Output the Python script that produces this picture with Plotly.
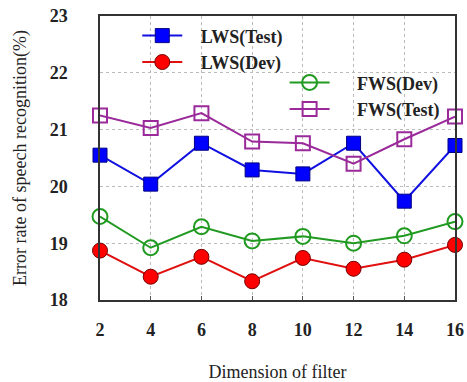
import plotly.graph_objects as go

dims = [2, 4, 6, 8, 10, 12, 14, 16]
lws_test = [20.55, 20.04, 20.76, 20.29, 20.22, 20.76, 19.74, 20.72]
lws_dev = [18.87, 18.41, 18.76, 18.33, 18.74, 18.55, 18.71, 18.97]
fws_dev = [19.47, 18.92, 19.29, 19.04, 19.12, 19.00, 19.13, 19.38]
fws_test = [21.25, 21.03, 21.29, 20.79, 20.76, 20.40, 20.83, 21.23]

serif = "Liberation Serif, Times New Roman, serif"
pad1 = "\u00a0" * 3
pad2 = "\u00a0" * 5

fig = go.Figure()
fig.add_trace(go.Scatter(x=dims, y=lws_test, name=pad1 + "LWS(Test)", mode="lines+markers",
                         line=dict(color="#1010e0", width=2),
                         marker=dict(symbol="square", size=14, color="#0000ff",
                                     line=dict(color="#000080", width=1)),
                         cliponaxis=False, legend="legend"))
fig.add_trace(go.Scatter(x=dims, y=lws_dev, name=pad1 + "LWS(Dev)", mode="lines+markers",
                         line=dict(color="#e01010", width=2),
                         marker=dict(symbol="circle", size=15, color="#ff0000",
                                     line=dict(color="#700000", width=1)),
                         cliponaxis=False, legend="legend"))
fig.add_trace(go.Scatter(x=dims, y=fws_dev, name=pad2 + "FWS(Dev)", mode="lines+markers",
                         line=dict(color="#209a20", width=2),
                         marker=dict(symbol="circle-open", size=15, color="#209a20",
                                     line=dict(color="#209a20", width=2)),
                         cliponaxis=False, legend="legend2"))
fig.add_trace(go.Scatter(x=dims, y=fws_test, name=pad2 + "FWS(Test)", mode="lines+markers",
                         line=dict(color="#9a2a9a", width=2),
                         marker=dict(symbol="square-open", size=14, color="#9a2a9a",
                                     line=dict(color="#9a2a9a", width=2)),
                         cliponaxis=False, legend="legend2"))

fig.update_layout(
    width=467, height=382,
    margin=dict(l=100, r=12, t=16, b=82),
    paper_bgcolor="white", plot_bgcolor="white",
    font=dict(family=serif, color="#222"),
    legend=dict(x=0.105, y=0.995, xanchor="left", yanchor="top",
                bgcolor="rgba(0,0,0,0)", font=dict(size=18, family=serif, weight="bold"),
                tracegroupgap=0, itemwidth=40),
    legend2=dict(x=0.52, y=0.83, xanchor="left", yanchor="top",
                 bgcolor="rgba(0,0,0,0)", font=dict(size=18, family=serif, weight="bold"),
                 tracegroupgap=0, itemwidth=40),
    xaxis=dict(range=[2, 16], tickvals=dims, ticktext=[str(d) for d in dims],
               automargin=False,
               showgrid=True, gridcolor="#bbbbbb", griddash="dot", gridwidth=1,
               showline=True, linecolor="#333", linewidth=1.5, mirror=True,
               ticks="inside", ticklen=4, tickcolor="#555",
               ticklabelstandoff=13,
               tickfont=dict(size=18, family=serif, weight="bold", color="#222"),
               title=dict(text="Dimension of filter", font=dict(size=18, family=serif, color="#222"),
                          standoff=26),
               zeroline=False),
    yaxis=dict(range=[18, 23], tickvals=[18, 19, 20, 21, 22, 23],
               automargin=False,
               showgrid=True, gridcolor="#bbbbbb", griddash="dot", gridwidth=1,
               showline=True, linecolor="#333", linewidth=1.5, mirror=True,
               ticks="", ticklabelstandoff=27,
               tickfont=dict(size=18, family=serif, weight="bold", color="#222"),
               title=dict(text="Error rate of speech recognition(%)",
                          font=dict(size=18, family=serif, color="#222"), standoff=18),
               zeroline=False),
)
fig.write_html("out.html")
